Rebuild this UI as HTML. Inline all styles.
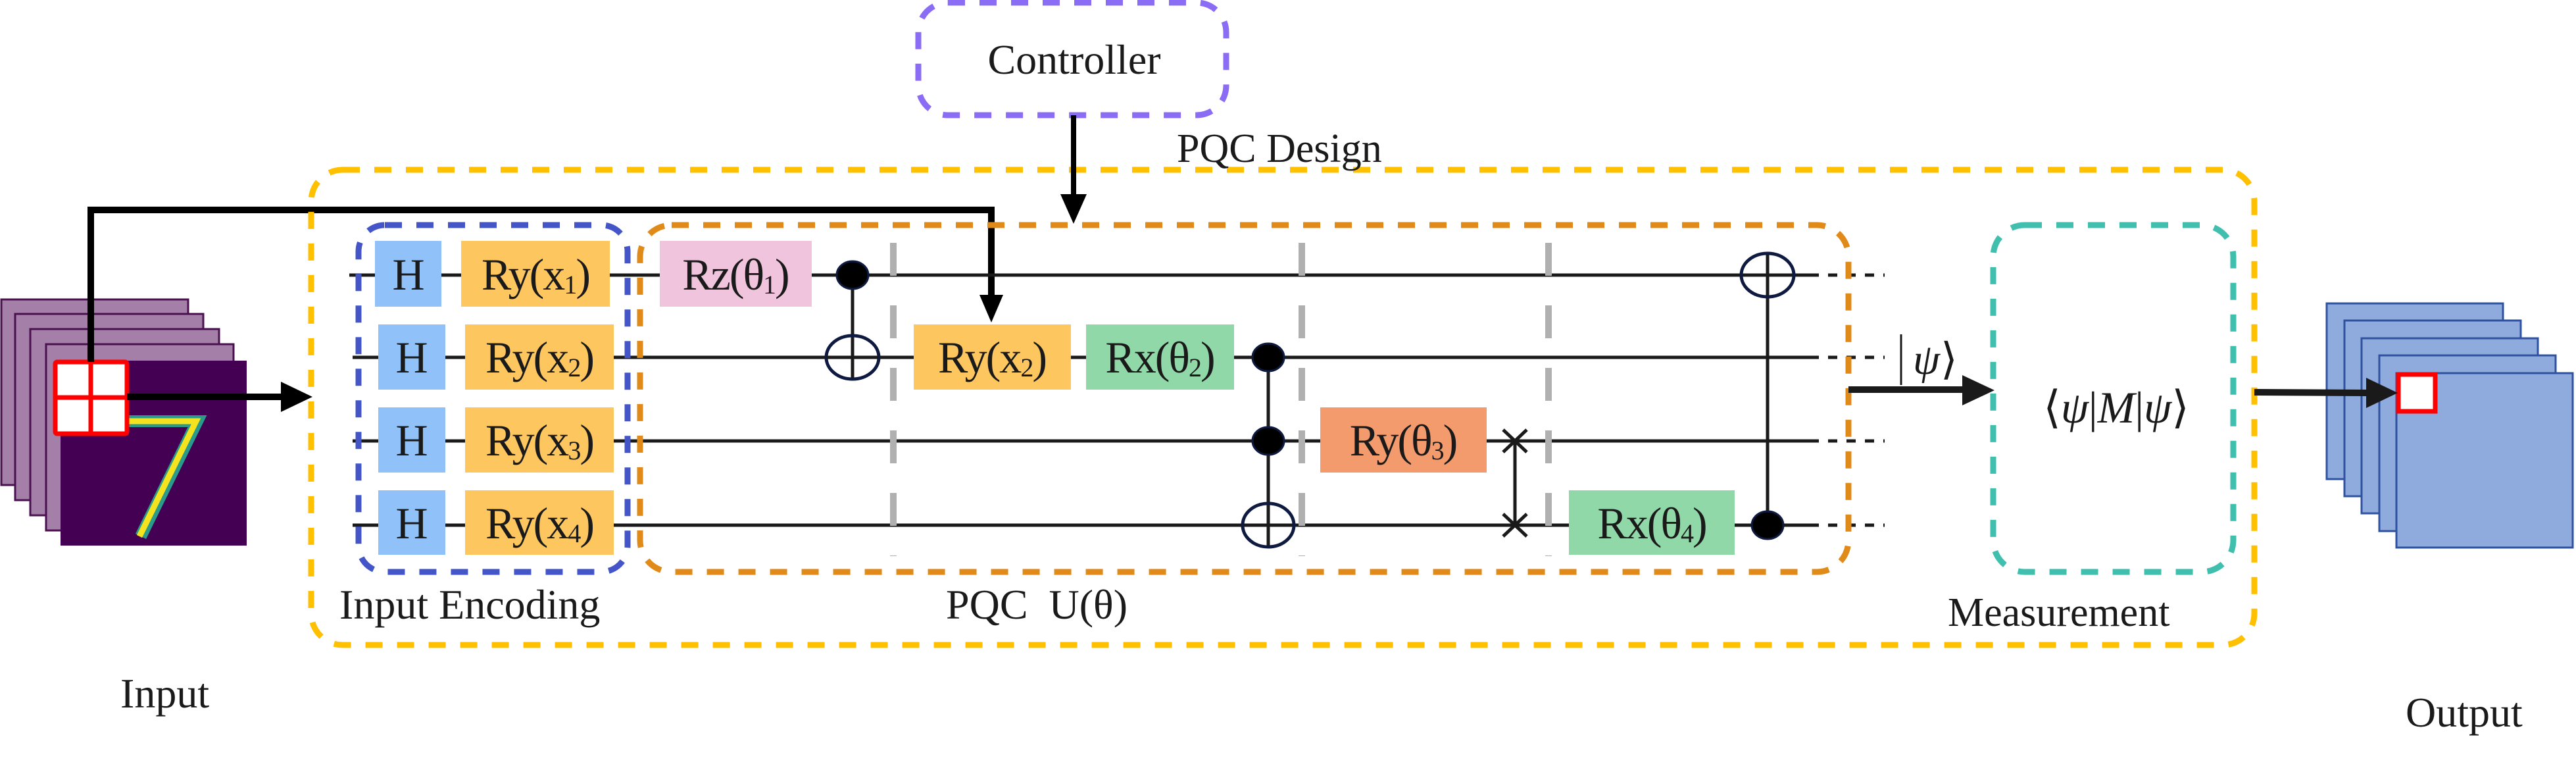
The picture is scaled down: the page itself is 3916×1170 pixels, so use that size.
<!DOCTYPE html>
<html><head><meta charset="utf-8"><style>
html,body{margin:0;padding:0;background:#fff}
svg{display:block}
text{font-family:"Liberation Serif",serif;fill:#1a1a1a}
</style></head><body>
<svg width="3916" height="1170" viewBox="0 0 3916 1170" xmlns="http://www.w3.org/2000/svg">
<!-- Input stack -->
<g stroke="#4a1050" stroke-width="3" fill="#A47FA8">
<rect x="2" y="455" width="284" height="282"/>
<rect x="23" y="477" width="286" height="283"/>
<rect x="46" y="500" width="287" height="283"/>
<rect x="70" y="523" width="285" height="283"/>
</g>
<rect x="92" y="548" width="283" height="281" fill="#440154"/>
<polyline points="196,640 300,640 214,815" fill="none" stroke="#2a9a8a" stroke-width="18"/>
<polyline points="196,640 298,640 212,815" fill="none" stroke="#f5e31f" stroke-width="9"/>
<rect x="84" y="550" width="109" height="109" fill="#fff" stroke="#f00" stroke-width="7" rx="3"/>
<line x1="138" y1="550" x2="138" y2="659" stroke="#f00" stroke-width="7"/>
<line x1="84" y1="604" x2="193" y2="604" stroke="#f00" stroke-width="7"/>
<!-- feedback line -->
<polyline points="138,550 138,319 1507,319 1507,450" fill="none" stroke="#000" stroke-width="10"/>
<polygon points="1489,448 1525,448 1507,490" fill="#000"/>
<!-- input arrow -->
<line x1="193" y1="603" x2="430" y2="603" stroke="#000" stroke-width="10"/>
<polygon points="427,580 427,626 475,603" fill="#000"/>
<text x="183" y="1075" font-size="64">Input</text>

<!-- outer yellow -->
<rect x="473" y="258" width="2954" height="722" rx="48" fill="none" stroke="#FFC000" stroke-width="9" stroke-dasharray="26,22"/>
<text x="1789" y="246" font-size="62">PQC Design</text>
<!-- controller -->
<rect x="1396" y="4" width="468" height="171" rx="45" fill="none" stroke="#8B6CF5" stroke-width="9" stroke-dasharray="26,22"/>
<text x="1633" y="112" font-size="64" text-anchor="middle">Controller</text>
<line x1="1632" y1="175" x2="1632" y2="300" stroke="#000" stroke-width="8"/>
<polygon points="1612,295 1652,295 1632,340" fill="#000"/>

<!-- qubit lines -->
<g stroke="#1a1a1a" stroke-width="5">
<line x1="531" y1="418" x2="2751" y2="418"/>
<line x1="536" y1="543" x2="2751" y2="543"/>
<line x1="536" y1="670" x2="2751" y2="670"/>
<line x1="536" y1="798" x2="2751" y2="798"/>
</g>
<g stroke="#1a1a1a" stroke-width="5" stroke-dasharray="14,14">
<line x1="2751" y1="418" x2="2865" y2="418"/>
<line x1="2751" y1="543" x2="2865" y2="543"/>
<line x1="2751" y1="670" x2="2865" y2="670"/>
<line x1="2751" y1="798" x2="2865" y2="798"/>
</g>
<!-- gray barriers -->
<g stroke="#B0B0B0" stroke-width="10" stroke-dasharray="50,45">
<line x1="1358" y1="369" x2="1358" y2="845"/>
<line x1="1979" y1="369" x2="1979" y2="845"/>
<line x1="2354" y1="369" x2="2354" y2="845"/>
</g>

<!-- encoding gates -->
<g fill="#90C2F9">
<rect x="570" y="366" width="101" height="100"/>
<rect x="575" y="493" width="102" height="99"/>
<rect x="575" y="619" width="102" height="99"/>
<rect x="575" y="745" width="102" height="98"/>
</g>
<g font-size="68" text-anchor="middle">
<text x="621" y="440">H</text>
<text x="626" y="566">H</text>
<text x="626" y="692">H</text>
<text x="626" y="818">H</text>
</g>
<g fill="#FDC65E">
<rect x="701" y="366" width="226" height="100"/>
<rect x="707" y="493" width="226" height="99"/>
<rect x="707" y="619" width="226" height="99"/>
<rect x="707" y="745" width="226" height="98"/>
<rect x="1389" y="493" width="239" height="99"/>
</g>
<rect x="1003" y="366" width="231" height="100" fill="#F1C4DE"/>
<rect x="1651" y="493" width="225" height="99" fill="#90D8A8"/>
<rect x="2007" y="619" width="253" height="99" fill="#F49B6E"/>
<rect x="2385" y="745" width="252" height="98" fill="#90D8A8"/>
<g font-size="68" text-anchor="middle" letter-spacing="-2">
<text x="814" y="440">Ry(x<tspan font-size="40" dy="6">1</tspan><tspan dy="-6">)</tspan></text>
<text x="820" y="566">Ry(x<tspan font-size="40" dy="6">2</tspan><tspan dy="-6">)</tspan></text>
<text x="820" y="692">Ry(x<tspan font-size="40" dy="6">3</tspan><tspan dy="-6">)</tspan></text>
<text x="820" y="818">Ry(x<tspan font-size="40" dy="6">4</tspan><tspan dy="-6">)</tspan></text>
<text x="1118" y="440">Rz(θ<tspan font-size="40" dy="6">1</tspan><tspan dy="-6">)</tspan></text>
<text x="1508" y="566">Ry(x<tspan font-size="40" dy="6">2</tspan><tspan dy="-6">)</tspan></text>
<text x="1763" y="566">Rx(θ<tspan font-size="40" dy="6">2</tspan><tspan dy="-6">)</tspan></text>
<text x="2133" y="692">Ry(θ<tspan font-size="40" dy="6">3</tspan><tspan dy="-6">)</tspan></text>
<text x="2511" y="818">Rx(θ<tspan font-size="40" dy="6">4</tspan><tspan dy="-6">)</tspan></text>
</g>

<!-- CNOT 1 -->
<g stroke="#1a1a1a" stroke-width="5" fill="none">
<line x1="1296" y1="418" x2="1296" y2="576"/>
<ellipse cx="1296" cy="543" rx="40" ry="33" stroke="#0f1a40"/>
<line x1="1256" y1="543" x2="1336" y2="543"/>
<line x1="1928" y1="543" x2="1928" y2="831"/>
<ellipse cx="1928" cy="798" rx="39" ry="33" stroke="#0f1a40"/>
<line x1="2303" y1="670" x2="2303" y2="798"/>
<line x1="2285" y1="653" x2="2321" y2="687"/>
<line x1="2321" y1="653" x2="2285" y2="687"/>
<line x1="2285" y1="781" x2="2321" y2="815"/>
<line x1="2321" y1="781" x2="2285" y2="815"/>
<line x1="2687" y1="385" x2="2687" y2="798"/>
<ellipse cx="2687" cy="418" rx="40" ry="33" stroke="#0f1a40"/>
</g>
<g fill="#000" stroke="#0f1a40" stroke-width="3">
<ellipse cx="1296" cy="418" rx="24" ry="21"/>
<ellipse cx="1928" cy="543" rx="24" ry="21"/>
<ellipse cx="1928" cy="670" rx="24" ry="21"/>
<ellipse cx="2687" cy="798" rx="24" ry="21"/>
</g>

<!-- dashed boxes -->
<rect x="545" y="342" width="409" height="527" rx="40" fill="none" stroke="#4455C8" stroke-width="9" stroke-dasharray="26,22"/>
<rect x="973" y="342" width="1837" height="527" rx="48" fill="none" stroke="#E08A1A" stroke-width="9" stroke-dasharray="26,22"/>
<rect x="3030" y="342" width="365" height="527" rx="48" fill="none" stroke="#40BFAF" stroke-width="9" stroke-dasharray="26,22"/>
<text x="516" y="940" font-size="64">Input Encoding</text>
<text x="1438" y="940" font-size="64">PQC &#160;U(θ)</text>
<text x="2961" y="951" font-size="62">Measurement</text>

<!-- psi arrow -->
<line x1="2810" y1="592" x2="2990" y2="592" stroke="#1a1a1a" stroke-width="10"/>
<polygon points="2983,570 2983,616 3032,593" fill="#1a1a1a"/>
<line x1="2890" y1="508" x2="2890" y2="585" stroke="#1a1a1a" stroke-width="3"/>
<text x="2908" y="568" font-size="66" font-style="italic">ψ</text>
<text x="2950" y="568" font-size="66">⟩</text>
<text x="3217" y="642" font-size="68" text-anchor="middle">⟨<tspan font-style="italic">ψ</tspan>|<tspan font-style="italic">M</tspan>|<tspan font-style="italic">ψ</tspan>⟩</text>

<!-- output stack -->
<g fill="#8FAADC" stroke="#2F52A0" stroke-width="3">
<rect x="3537" y="461" width="268" height="267"/>
<rect x="3564" y="487" width="268" height="267"/>
<rect x="3590" y="514" width="268" height="266"/>
<rect x="3617" y="540" width="268" height="267"/>
<rect x="3643" y="567" width="268" height="265"/>
</g>
<rect x="3646" y="569" width="56" height="56" fill="#fff" stroke="#f00" stroke-width="7"/>
<line x1="3427" y1="596" x2="3600" y2="597" stroke="#1a1a1a" stroke-width="10"/>
<polygon points="3597,574 3597,620 3645,597" fill="#1a1a1a"/>
<text x="3657" y="1104" font-size="64">Output</text>
</svg>
</body></html>
